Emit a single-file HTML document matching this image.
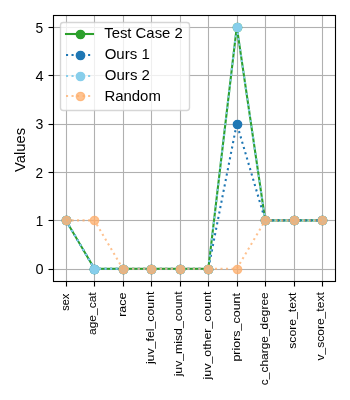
<!DOCTYPE html>
<html><head><meta charset="utf-8"><title>Values chart</title><style>
html,body{margin:0;padding:0;background:#fff;width:350px;height:400px;overflow:hidden}
svg{display:block}
text{font-family:"Liberation Sans",sans-serif;fill:#000}
</style></head><body>
<svg width="350" height="400" viewBox="0 0 350 400">
<rect x="0" y="0" width="350" height="400" fill="#ffffff"/>
<g shape-rendering="crispEdges">
<rect x="66" y="16" width="1" height="265" fill="#b0b0b0"/><rect x="65" y="16" width="1" height="265" fill="#b0b0b0" fill-opacity="0.055"/><rect x="67" y="16" width="1" height="265" fill="#b0b0b0" fill-opacity="0.055"/>
<rect x="94" y="16" width="1" height="265" fill="#b0b0b0"/><rect x="93" y="16" width="1" height="265" fill="#b0b0b0" fill-opacity="0.055"/><rect x="95" y="16" width="1" height="265" fill="#b0b0b0" fill-opacity="0.055"/>
<rect x="123" y="16" width="1" height="265" fill="#b0b0b0"/><rect x="122" y="16" width="1" height="265" fill="#b0b0b0" fill-opacity="0.055"/><rect x="124" y="16" width="1" height="265" fill="#b0b0b0" fill-opacity="0.055"/>
<rect x="151" y="16" width="1" height="265" fill="#b0b0b0"/><rect x="150" y="16" width="1" height="265" fill="#b0b0b0" fill-opacity="0.055"/><rect x="152" y="16" width="1" height="265" fill="#b0b0b0" fill-opacity="0.055"/>
<rect x="180" y="16" width="1" height="265" fill="#b0b0b0"/><rect x="179" y="16" width="1" height="265" fill="#b0b0b0" fill-opacity="0.055"/><rect x="181" y="16" width="1" height="265" fill="#b0b0b0" fill-opacity="0.055"/>
<rect x="208" y="16" width="1" height="265" fill="#b0b0b0"/><rect x="207" y="16" width="1" height="265" fill="#b0b0b0" fill-opacity="0.055"/><rect x="209" y="16" width="1" height="265" fill="#b0b0b0" fill-opacity="0.055"/>
<rect x="237" y="16" width="1" height="265" fill="#b0b0b0"/><rect x="236" y="16" width="1" height="265" fill="#b0b0b0" fill-opacity="0.055"/><rect x="238" y="16" width="1" height="265" fill="#b0b0b0" fill-opacity="0.055"/>
<rect x="265" y="16" width="1" height="265" fill="#b0b0b0"/><rect x="264" y="16" width="1" height="265" fill="#b0b0b0" fill-opacity="0.055"/><rect x="266" y="16" width="1" height="265" fill="#b0b0b0" fill-opacity="0.055"/>
<rect x="294" y="16" width="1" height="265" fill="#b0b0b0"/><rect x="293" y="16" width="1" height="265" fill="#b0b0b0" fill-opacity="0.055"/><rect x="295" y="16" width="1" height="265" fill="#b0b0b0" fill-opacity="0.055"/>
<rect x="322" y="16" width="1" height="265" fill="#b0b0b0"/><rect x="321" y="16" width="1" height="265" fill="#b0b0b0" fill-opacity="0.055"/><rect x="323" y="16" width="1" height="265" fill="#b0b0b0" fill-opacity="0.055"/>
<rect x="54" y="269" width="281" height="1" fill="#b0b0b0"/><rect x="54" y="268" width="281" height="1" fill="#b0b0b0" fill-opacity="0.055"/><rect x="54" y="270" width="281" height="1" fill="#b0b0b0" fill-opacity="0.055"/>
<rect x="54" y="220" width="281" height="1" fill="#b0b0b0"/><rect x="54" y="219" width="281" height="1" fill="#b0b0b0" fill-opacity="0.055"/><rect x="54" y="221" width="281" height="1" fill="#b0b0b0" fill-opacity="0.055"/>
<rect x="54" y="172" width="281" height="1" fill="#b0b0b0"/><rect x="54" y="171" width="281" height="1" fill="#b0b0b0" fill-opacity="0.055"/><rect x="54" y="173" width="281" height="1" fill="#b0b0b0" fill-opacity="0.055"/>
<rect x="54" y="124" width="281" height="1" fill="#b0b0b0"/><rect x="54" y="123" width="281" height="1" fill="#b0b0b0" fill-opacity="0.055"/><rect x="54" y="125" width="281" height="1" fill="#b0b0b0" fill-opacity="0.055"/>
<rect x="54" y="75" width="281" height="1" fill="#b0b0b0"/><rect x="54" y="74" width="281" height="1" fill="#b0b0b0" fill-opacity="0.055"/><rect x="54" y="76" width="281" height="1" fill="#b0b0b0" fill-opacity="0.055"/>
<rect x="54" y="27" width="281" height="1" fill="#b0b0b0"/><rect x="54" y="26" width="281" height="1" fill="#b0b0b0" fill-opacity="0.055"/><rect x="54" y="28" width="281" height="1" fill="#b0b0b0" fill-opacity="0.055"/>
<rect x="49" y="269" width="4" height="1" fill="#000"/><rect x="48" y="269" width="1" height="1" fill="#000" fill-opacity="0.5"/><rect x="48.5" y="268" width="4.5" height="1" fill="#000" fill-opacity="0.055"/><rect x="48.5" y="270" width="4.5" height="1" fill="#000" fill-opacity="0.055"/>
<rect x="49" y="220" width="4" height="1" fill="#000"/><rect x="48" y="220" width="1" height="1" fill="#000" fill-opacity="0.5"/><rect x="48.5" y="219" width="4.5" height="1" fill="#000" fill-opacity="0.055"/><rect x="48.5" y="221" width="4.5" height="1" fill="#000" fill-opacity="0.055"/>
<rect x="49" y="172" width="4" height="1" fill="#000"/><rect x="48" y="172" width="1" height="1" fill="#000" fill-opacity="0.5"/><rect x="48.5" y="171" width="4.5" height="1" fill="#000" fill-opacity="0.055"/><rect x="48.5" y="173" width="4.5" height="1" fill="#000" fill-opacity="0.055"/>
<rect x="49" y="124" width="4" height="1" fill="#000"/><rect x="48" y="124" width="1" height="1" fill="#000" fill-opacity="0.5"/><rect x="48.5" y="123" width="4.5" height="1" fill="#000" fill-opacity="0.055"/><rect x="48.5" y="125" width="4.5" height="1" fill="#000" fill-opacity="0.055"/>
<rect x="49" y="75" width="4" height="1" fill="#000"/><rect x="48" y="75" width="1" height="1" fill="#000" fill-opacity="0.5"/><rect x="48.5" y="74" width="4.5" height="1" fill="#000" fill-opacity="0.055"/><rect x="48.5" y="76" width="4.5" height="1" fill="#000" fill-opacity="0.055"/>
<rect x="49" y="27" width="4" height="1" fill="#000"/><rect x="48" y="27" width="1" height="1" fill="#000" fill-opacity="0.5"/><rect x="48.5" y="26" width="4.5" height="1" fill="#000" fill-opacity="0.055"/><rect x="48.5" y="28" width="4.5" height="1" fill="#000" fill-opacity="0.055"/>
<rect x="66" y="282" width="1" height="4" fill="#000"/><rect x="66" y="286" width="1" height="1" fill="#000" fill-opacity="0.5"/><rect x="65" y="282" width="1" height="4.5" fill="#000" fill-opacity="0.055"/><rect x="67" y="282" width="1" height="4.5" fill="#000" fill-opacity="0.055"/>
<rect x="94" y="282" width="1" height="4" fill="#000"/><rect x="94" y="286" width="1" height="1" fill="#000" fill-opacity="0.5"/><rect x="93" y="282" width="1" height="4.5" fill="#000" fill-opacity="0.055"/><rect x="95" y="282" width="1" height="4.5" fill="#000" fill-opacity="0.055"/>
<rect x="123" y="282" width="1" height="4" fill="#000"/><rect x="123" y="286" width="1" height="1" fill="#000" fill-opacity="0.5"/><rect x="122" y="282" width="1" height="4.5" fill="#000" fill-opacity="0.055"/><rect x="124" y="282" width="1" height="4.5" fill="#000" fill-opacity="0.055"/>
<rect x="151" y="282" width="1" height="4" fill="#000"/><rect x="151" y="286" width="1" height="1" fill="#000" fill-opacity="0.5"/><rect x="150" y="282" width="1" height="4.5" fill="#000" fill-opacity="0.055"/><rect x="152" y="282" width="1" height="4.5" fill="#000" fill-opacity="0.055"/>
<rect x="180" y="282" width="1" height="4" fill="#000"/><rect x="180" y="286" width="1" height="1" fill="#000" fill-opacity="0.5"/><rect x="179" y="282" width="1" height="4.5" fill="#000" fill-opacity="0.055"/><rect x="181" y="282" width="1" height="4.5" fill="#000" fill-opacity="0.055"/>
<rect x="208" y="282" width="1" height="4" fill="#000"/><rect x="208" y="286" width="1" height="1" fill="#000" fill-opacity="0.5"/><rect x="207" y="282" width="1" height="4.5" fill="#000" fill-opacity="0.055"/><rect x="209" y="282" width="1" height="4.5" fill="#000" fill-opacity="0.055"/>
<rect x="237" y="282" width="1" height="4" fill="#000"/><rect x="237" y="286" width="1" height="1" fill="#000" fill-opacity="0.5"/><rect x="236" y="282" width="1" height="4.5" fill="#000" fill-opacity="0.055"/><rect x="238" y="282" width="1" height="4.5" fill="#000" fill-opacity="0.055"/>
<rect x="265" y="282" width="1" height="4" fill="#000"/><rect x="265" y="286" width="1" height="1" fill="#000" fill-opacity="0.5"/><rect x="264" y="282" width="1" height="4.5" fill="#000" fill-opacity="0.055"/><rect x="266" y="282" width="1" height="4.5" fill="#000" fill-opacity="0.055"/>
<rect x="294" y="282" width="1" height="4" fill="#000"/><rect x="294" y="286" width="1" height="1" fill="#000" fill-opacity="0.5"/><rect x="293" y="282" width="1" height="4.5" fill="#000" fill-opacity="0.055"/><rect x="295" y="282" width="1" height="4.5" fill="#000" fill-opacity="0.055"/>
<rect x="322" y="282" width="1" height="4" fill="#000"/><rect x="322" y="286" width="1" height="1" fill="#000" fill-opacity="0.5"/><rect x="321" y="282" width="1" height="4.5" fill="#000" fill-opacity="0.055"/><rect x="323" y="282" width="1" height="4.5" fill="#000" fill-opacity="0.055"/>
</g>
<path d="M65.961 220.411 L94.431 268.802 L122.901 268.802 L151.37 268.802 L179.84 268.802 L208.31 268.802 L236.78 26.848 L265.249 220.411 L293.719 220.411 L322.189 220.411" fill="none" stroke="#2ca02c" stroke-width="2.083" stroke-linecap="square" stroke-linejoin="round"/>
<g fill="#2ca02c" stroke="#2ca02c" stroke-width="1.389">
<circle cx="66.5" cy="220.5" r="4.167"/>
<circle cx="94.5" cy="269.5" r="4.167"/>
<circle cx="123.5" cy="269.5" r="4.167"/>
<circle cx="151.5" cy="269.5" r="4.167"/>
<circle cx="180.5" cy="269.5" r="4.167"/>
<circle cx="208.5" cy="269.5" r="4.167"/>
<circle cx="237.5" cy="27.5" r="4.167"/>
<circle cx="265.5" cy="220.5" r="4.167"/>
<circle cx="294.5" cy="220.5" r="4.167"/>
<circle cx="322.5" cy="220.5" r="4.167"/>
</g>
<path d="M65.961 220.411 L94.431 268.802 L122.901 268.802 L151.37 268.802 L179.84 268.802 L208.31 268.802 L236.78 123.63 L265.249 220.411 L293.719 220.411 L322.189 220.411" fill="none" stroke="#1f77b4" stroke-width="2.083" stroke-dasharray="2.083 3.438" stroke-linecap="butt" stroke-linejoin="round"/>
<g fill="#1f77b4" stroke="#1f77b4" stroke-width="1.389">
<circle cx="66.5" cy="220.5" r="4.167"/>
<circle cx="94.5" cy="269.5" r="4.167"/>
<circle cx="123.5" cy="269.5" r="4.167"/>
<circle cx="151.5" cy="269.5" r="4.167"/>
<circle cx="180.5" cy="269.5" r="4.167"/>
<circle cx="208.5" cy="269.5" r="4.167"/>
<circle cx="237.5" cy="124.5" r="4.167"/>
<circle cx="265.5" cy="220.5" r="4.167"/>
<circle cx="294.5" cy="220.5" r="4.167"/>
<circle cx="322.5" cy="220.5" r="4.167"/>
</g>
<path d="M65.961 220.411 L94.431 268.802 L122.901 268.802 L151.37 268.802 L179.84 268.802 L208.31 268.802 L236.78 26.848 L265.249 220.411 L293.719 220.411 L322.189 220.411" fill="none" stroke="#87ceeb" stroke-width="2.083" stroke-dasharray="2.083 3.438" stroke-linecap="butt" stroke-linejoin="round"/>
<g fill="#87ceeb" stroke="#87ceeb" stroke-width="1.389">
<circle cx="66.5" cy="220.5" r="4.167"/>
<circle cx="94.5" cy="269.5" r="4.167"/>
<circle cx="123.5" cy="269.5" r="4.167"/>
<circle cx="151.5" cy="269.5" r="4.167"/>
<circle cx="180.5" cy="269.5" r="4.167"/>
<circle cx="208.5" cy="269.5" r="4.167"/>
<circle cx="237.5" cy="27.5" r="4.167"/>
<circle cx="265.5" cy="220.5" r="4.167"/>
<circle cx="294.5" cy="220.5" r="4.167"/>
<circle cx="322.5" cy="220.5" r="4.167"/>
</g>
<path d="M65.961 220.411 L94.431 220.411 L122.901 268.802 L151.37 268.802 L179.84 268.802 L208.31 268.802 L236.78 268.802 L265.249 220.411 L293.719 220.411 L322.189 220.411" fill="none" stroke="#fdae6b" stroke-width="2.083" stroke-dasharray="2.083 3.438" stroke-linecap="butt" stroke-linejoin="round" stroke-opacity="0.75"/>
<g fill="#fdae6b" stroke="#fdae6b" stroke-width="1.389" fill-opacity="0.75" stroke-opacity="0.75">
<circle cx="66.5" cy="220.5" r="4.167"/>
<circle cx="94.5" cy="220.5" r="4.167"/>
<circle cx="123.5" cy="269.5" r="4.167"/>
<circle cx="151.5" cy="269.5" r="4.167"/>
<circle cx="180.5" cy="269.5" r="4.167"/>
<circle cx="208.5" cy="269.5" r="4.167"/>
<circle cx="237.5" cy="269.5" r="4.167"/>
<circle cx="265.5" cy="220.5" r="4.167"/>
<circle cx="294.5" cy="220.5" r="4.167"/>
<circle cx="322.5" cy="220.5" r="4.167"/>
</g>
<g shape-rendering="crispEdges">
<rect x="53" y="15" width="1" height="267" fill="#000"/><rect x="52" y="15" width="1" height="267" fill="#000" fill-opacity="0.055"/><rect x="54" y="16" width="1" height="265" fill="#000" fill-opacity="0.055"/>
<rect x="335" y="15" width="1" height="267" fill="#000"/><rect x="336" y="15" width="1" height="267" fill="#000" fill-opacity="0.055"/><rect x="334" y="16" width="1" height="265" fill="#000" fill-opacity="0.055"/>
<rect x="54" y="15" width="281" height="1" fill="#000"/><rect x="53" y="14" width="283" height="1" fill="#000" fill-opacity="0.055"/><rect x="54" y="16" width="281" height="1" fill="#000" fill-opacity="0.055"/>
<rect x="54" y="281" width="281" height="1" fill="#000"/><rect x="53" y="282" width="283" height="1" fill="#000" fill-opacity="0.055"/><rect x="54" y="280" width="281" height="1" fill="#000" fill-opacity="0.055"/>
</g>
<rect x="60.5" y="22.5" width="129" height="88" rx="2.778" ry="2.778" fill="#ffffff" fill-opacity="0.8" stroke="#cccccc" stroke-opacity="0.8" stroke-width="1.389"/>
<line x1="66" y1="34" x2="93" y2="34" stroke="#2ca02c" stroke-width="2.083" stroke-linecap="square"/>
<circle cx="80.5" cy="34.5" r="4.167" fill="#2ca02c" stroke="#2ca02c" stroke-width="1.389"/>
<line x1="66" y1="55" x2="93" y2="55" stroke="#1f77b4" stroke-width="2.083" stroke-dasharray="2.083 3.438" stroke-linecap="butt"/>
<circle cx="80.5" cy="55.5" r="4.167" fill="#1f77b4" stroke="#1f77b4" stroke-width="1.389"/>
<line x1="66" y1="76" x2="93" y2="76" stroke="#87ceeb" stroke-width="2.083" stroke-dasharray="2.083 3.438" stroke-linecap="butt"/>
<circle cx="80.5" cy="76.5" r="4.167" fill="#87ceeb" stroke="#87ceeb" stroke-width="1.389"/>
<line x1="66" y1="96" x2="93" y2="96" stroke="#fdae6b" stroke-width="2.083" stroke-dasharray="2.083 3.438" stroke-linecap="butt" stroke-opacity="0.75"/>
<circle cx="80.5" cy="96.5" r="4.167" fill="#fdae6b" stroke="#fdae6b" stroke-width="1.389" fill-opacity="0.75" stroke-opacity="0.75"/>
<g opacity="0.999">
<text transform="translate(104.197 38)" font-size="14.514" textLength="78.572" lengthAdjust="spacingAndGlyphs">Test Case 2</text>
<text transform="translate(104.647 59)" font-size="14.514" textLength="45.177" lengthAdjust="spacingAndGlyphs">Ours 1</text>
<text transform="translate(104.833 80)" font-size="14.514" textLength="45.085" lengthAdjust="spacingAndGlyphs">Ours 2</text>
<text transform="translate(104.392 101)" font-size="14.514" textLength="56.455" lengthAdjust="spacingAndGlyphs">Random</text>
<text transform="translate(35.377 274)" font-size="14.722" textLength="8.054" lengthAdjust="spacingAndGlyphs">0</text>
<text transform="translate(35.813 226)" font-size="14.722" textLength="7.501" lengthAdjust="spacingAndGlyphs">1</text>
<text transform="translate(35.382 178)" font-size="14.722" textLength="7.577" lengthAdjust="spacingAndGlyphs">2</text>
<text transform="translate(35.57 129)" font-size="14.722" textLength="7.847" lengthAdjust="spacingAndGlyphs">3</text>
<text transform="translate(35.402 81)" font-size="14.722" textLength="8.141" lengthAdjust="spacingAndGlyphs">4</text>
<text transform="translate(35.532 33)" font-size="14.722" textLength="7.661" lengthAdjust="spacingAndGlyphs">5</text>
<text transform="translate(69 310.724) rotate(-90)" font-size="11.778" textLength="16.902" lengthAdjust="spacingAndGlyphs" stroke="#000" stroke-width="0.03">sex</text>
<text transform="translate(96 334.947) rotate(-90)" font-size="11.778" textLength="42.563" lengthAdjust="spacingAndGlyphs" stroke="#000" stroke-width="0.03">age_cat</text>
<text transform="translate(126 316.84) rotate(-90)" font-size="11.778" textLength="24.37" lengthAdjust="spacingAndGlyphs" stroke="#000" stroke-width="0.03">race</text>
<text transform="translate(154 364.114) rotate(-90)" font-size="11.778" textLength="72.562" lengthAdjust="spacingAndGlyphs" stroke="#000" stroke-width="0.03">juv_fel_count</text>
<text transform="translate(182 376.357) rotate(-90)" font-size="11.778" textLength="85.046" lengthAdjust="spacingAndGlyphs" stroke="#000" stroke-width="0.03">juv_misd_count</text>
<text transform="translate(211 379.381) rotate(-90)" font-size="11.778" textLength="87.928" lengthAdjust="spacingAndGlyphs" stroke="#000" stroke-width="0.03">juv_other_count</text>
<text transform="translate(240 361.571) rotate(-90)" font-size="11.778" textLength="68.595" lengthAdjust="spacingAndGlyphs" stroke="#000" stroke-width="0.03">priors_count</text>
<text transform="translate(268 385.152) rotate(-90)" font-size="11.778" textLength="92.859" lengthAdjust="spacingAndGlyphs" stroke="#000" stroke-width="0.03">c_charge_degree</text>
<text transform="translate(296 348.782) rotate(-90)" font-size="11.778" textLength="56.172" lengthAdjust="spacingAndGlyphs" stroke="#000" stroke-width="0.03">score_text</text>
<text transform="translate(324 360.586) rotate(-90)" font-size="11.778" textLength="68.357" lengthAdjust="spacingAndGlyphs" stroke="#000" stroke-width="0.03">v_score_text</text>
<text transform="translate(25 172.075) rotate(-90)" font-size="14.583" textLength="44.191" lengthAdjust="spacingAndGlyphs">Values</text>
</g>
</svg>
</body></html>
